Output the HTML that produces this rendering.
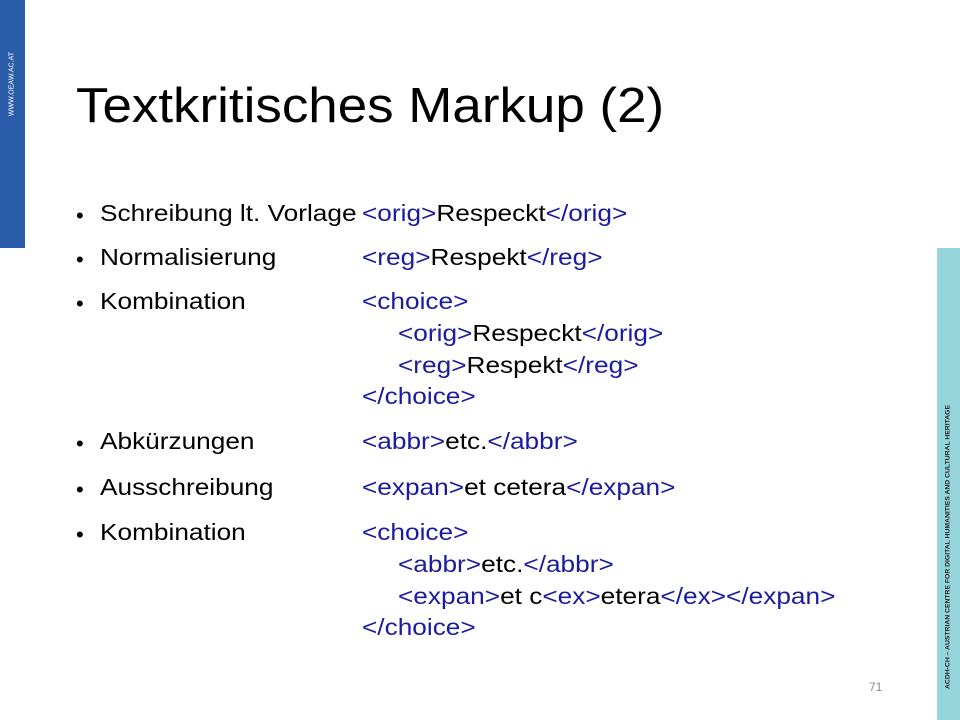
<!DOCTYPE html>
<html><head><meta charset="utf-8"><style>
body{margin:0;width:960px;height:720px;position:relative;background:#fff;overflow:hidden;font-family:"Liberation Sans",sans-serif;}
.l{position:absolute;white-space:nowrap;font-size:23px;color:#000;line-height:26px;transform:scaleX(1.14);transform-origin:left;}
.b{color:#1b1ba0;}
.dot{position:absolute;left:76px;font-size:22px;line-height:26px;margin-top:4px;}
</style></head><body>
<div style="position:absolute;left:0;top:0;width:25px;height:248px;background:#2a5caa"></div>
<div style="position:absolute;left:12px;top:84px;"><div style="position:absolute;left:0;top:0;transform:translate(-50%,-50%) rotate(-90deg);color:#fff;font-size:7px;white-space:nowrap">WWW.OEAW.AC.AT</div></div>
<div style="position:absolute;left:937px;top:248px;width:23px;height:472px;background:#96d4dc"></div>
<div style="position:absolute;left:948px;top:547px;"><div style="position:absolute;left:0;top:0;transform:translate(-50%,-50%) rotate(-90deg);color:#222;font-size:6.8px;font-weight:bold;white-space:nowrap">ACDH-CH – AUSTRIAN CENTRE FOR DIGITAL HUMANITIES AND CULTURAL HERITAGE</div></div>
<div style="position:absolute;left:76px;top:77px;font-size:49px;line-height:58px;white-space:nowrap;transform:scaleX(1.08);transform-origin:left">Textkritisches Markup (2)</div>

<div class="dot" style="top:199px">•</div><div class="l" style="left:100px;top:200px">Schreibung lt. Vorlage</div>
<div class="l" style="left:362px;top:200px"><span class="b">&lt;orig&gt;</span>Respeckt<span class="b">&lt;/orig&gt;</span></div>
<div class="dot" style="top:243px">•</div><div class="l" style="left:100px;top:244px">Normalisierung</div>
<div class="l" style="left:362px;top:244px"><span class="b">&lt;reg&gt;</span>Respekt<span class="b">&lt;/reg&gt;</span></div>
<div class="dot" style="top:287px">•</div><div class="l" style="left:100px;top:288px">Kombination</div>
<div class="l b" style="left:362px;top:288px">&lt;choice&gt;</div>
<div class="l" style="left:398px;top:320px"><span class="b">&lt;orig&gt;</span>Respeckt<span class="b">&lt;/orig&gt;</span></div>
<div class="l" style="left:398px;top:352px"><span class="b">&lt;reg&gt;</span>Respekt<span class="b">&lt;/reg&gt;</span></div>
<div class="l b" style="left:362px;top:383px">&lt;/choice&gt;</div>
<div class="dot" style="top:427px">•</div><div class="l" style="left:100px;top:428px">Abkürzungen</div>
<div class="l" style="left:362px;top:428px"><span class="b">&lt;abbr&gt;</span>etc.<span class="b">&lt;/abbr&gt;</span></div>
<div class="dot" style="top:473px">•</div><div class="l" style="left:100px;top:474px">Ausschreibung</div>
<div class="l" style="left:362px;top:474px"><span class="b">&lt;expan&gt;</span>et cetera<span class="b">&lt;/expan&gt;</span></div>
<div class="dot" style="top:518px">•</div><div class="l" style="left:100px;top:519px">Kombination</div>
<div class="l b" style="left:362px;top:519px">&lt;choice&gt;</div>
<div class="l" style="left:398px;top:551px"><span class="b">&lt;abbr&gt;</span>etc.<span class="b">&lt;/abbr&gt;</span></div>
<div class="l" style="left:398px;top:583px"><span class="b">&lt;expan&gt;</span>et c<span class="b">&lt;ex&gt;</span>etera<span class="b">&lt;/ex&gt;&lt;/expan&gt;</span></div>
<div class="l b" style="left:362px;top:614px">&lt;/choice&gt;</div>
<div style="position:absolute;left:869px;top:680px;font-size:12px;color:#888">71</div>
</body></html>
